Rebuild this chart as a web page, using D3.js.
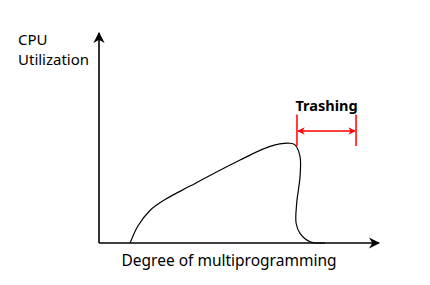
<!DOCTYPE html>
<html>
<head>
<meta charset="utf-8">
<script src="https://cdn.jsdelivr.net/npm/d3@7"></script>
<style>
body { margin: 0; background: white; }
text { font-family: "Noto Sans", sans-serif; }
</style>
</head>
<body>
<script>
// curve points, arbitrary units (0..10 on both axes)
const curveX = [1.11, 1.39, 1.82, 2.36, 3.25, 5.04, 6.11, 6.82, 7.0, 7.18, 7.18, 7.06, 7.04, 7.18, 7.54, 8.07]
const curveY = [0, 0.81, 1.55, 2.07, 2.71, 3.95, 4.6, 4.75, 4.67, 4.11, 3.16, 1.89, 0.94, 0.46, 0.06, 0]
const thrashRange = [7.07, 9.18]
const thrashLabel = "Trashing"
const yLabel = ["CPU", "Utilization"]
const xLabel = "Degree of multiprogramming"

const width = 430, height = 285

const svg = d3.select("body").append("svg")
    .attr("width", width)
    .attr("height", height)

const xScale = d3.scaleLinear().domain([0, 10]).range([99, 379])
const yScale = d3.scaleLinear().domain([0, 10]).range([243, 33])

const defs = svg.append("defs")
defs.append("marker")
    .attr("id", "axisHead")
    .attr("viewBox", "0 0 10 10")
    .attr("refX", 9).attr("refY", 5)
    .attr("markerWidth", 7).attr("markerHeight", 7)
    .attr("markerUnits", "strokeWidth")
    .attr("orient", "auto")
    .append("path")
    .attr("d", "M0,0 L10,5 L0,10 L3,5 Z")
    .attr("fill", "#000")

defs.append("marker")
    .attr("id", "redHead")
    .attr("viewBox", "0 0 10 10")
    .attr("refX", 9).attr("refY", 5)
    .attr("markerWidth", 5).attr("markerHeight", 5)
    .attr("markerUnits", "strokeWidth")
    .attr("orient", "auto-start-reverse")
    .append("path")
    .attr("d", "M0,0 L10,5 L0,10 L3,5 Z")
    .attr("fill", "#ff0000")

// axes
svg.append("line")
    .attr("x1", xScale(0)).attr("y1", yScale(0))
    .attr("x2", xScale(0)).attr("y2", yScale(10))
    .attr("stroke", "#000").attr("stroke-width", 1.6)
    .attr("marker-end", "url(#axisHead)")

svg.append("line")
    .attr("x1", xScale(0)).attr("y1", yScale(0))
    .attr("x2", xScale(10)).attr("y2", yScale(0))
    .attr("stroke", "#000").attr("stroke-width", 1.6)
    .attr("marker-end", "url(#axisHead)")

// utilization curve
const points = curveX.map((x, i) => [x, curveY[i]])
const line = d3.line()
    .x(d => xScale(d[0]))
    .y(d => yScale(d[1]))
    .curve(d3.curveCatmullRom.alpha(0.5))

svg.append("path")
    .attr("d", line(points))
    .attr("fill", "none")
    .attr("stroke", "#000")
    .attr("stroke-width", 1.2)

// thrashing marker
const red = "#ff0000"
thrashRange.forEach(x => {
    svg.append("line")
        .attr("x1", xScale(x)).attr("x2", xScale(x))
        .attr("y1", yScale(4.62)).attr("y2", yScale(6.12))
        .attr("stroke", red).attr("stroke-width", 1.5)
})

svg.append("line")
    .attr("x1", xScale(thrashRange[0]) + 1).attr("x2", xScale(thrashRange[1]) - 1)
    .attr("y1", yScale(5.33)).attr("y2", yScale(5.33))
    .attr("stroke", red).attr("stroke-width", 1.5)
    .attr("marker-start", "url(#redHead)")
    .attr("marker-end", "url(#redHead)")

svg.append("text")
    .attr("x", xScale((thrashRange[0] + thrashRange[1]) / 2))
    .attr("y", yScale(6.3))
    .attr("text-anchor", "middle")
    .attr("font-weight", "bold")
    .attr("font-size", 14.5)
    .text(thrashLabel)

// labels
svg.append("text")
    .attr("x", 18).attr("y", 45)
    .attr("font-size", 15)
    .selectAll("tspan")
    .data(yLabel).enter()
    .append("tspan")
    .attr("x", 18)
    .attr("dy", (d, i) => i === 0 ? 0 : 20)
    .text(d => d)

svg.append("text")
    .attr("x", 229).attr("y", 266)
    .attr("text-anchor", "middle")
    .attr("font-size", 15.5)
    .text(xLabel)
</script>
</body>
</html>
